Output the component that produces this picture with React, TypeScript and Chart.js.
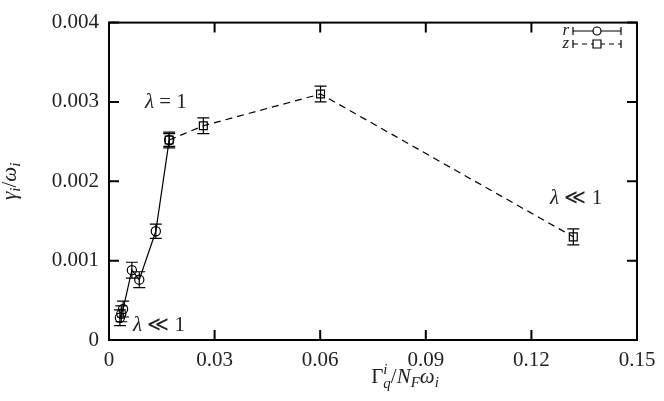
import React, { useEffect, useRef } from "react";
import { Chart, registerables } from "chart.js";

Chart.register(...registerables);

// ---- data ----
const seriesNames = ["r", "z"];
const rX = [0.0031, 0.0035, 0.004, 0.0065, 0.0086, 0.0133, 0.0171];
const rY = [0.00028, 0.00033, 0.00039, 0.00088, 0.00076, 0.00137, 0.00252];
const rErr = [0.0001, 0.0001, 0.0001, 0.0001, 0.0001, 0.00009, 0.00008];
const zX = [0.0171, 0.0268, 0.0601, 0.1319];
const zY = [0.00252, 0.0027, 0.0031, 0.0013];
const zErr = [0.0001, 0.0001, 0.0001, 0.0001];
const xTicks = [0, 0.03, 0.06, 0.09, 0.12, 0.15];
const xTickLabels = ["0", "0.03", "0.06", "0.09", "0.12", "0.15"];
const yTicks = [0, 0.001, 0.002, 0.003, 0.004];
const yTickLabels = ["0", "0.001", "0.002", "0.003", "0.004"];
const annX = [0.0102, 0.0068, 0.1253];
const annY = [0.00293, 0.00011, 0.00171];
const annRest = [" = 1", " \u226A 1", " \u226A 1"];

const SERIF = '"Liberation Serif", "DejaVu Serif", serif';
const TEXT = "#222";

type Run = { t: string; f: string; dy?: number; stack?: boolean };

function runsWidth(ctx: CanvasRenderingContext2D, runs: Run[]) {
  let w = 0;
  let stackW = 0;
  for (const r of runs) {
    ctx.font = r.f;
    const m = ctx.measureText(r.t).width;
    if (r.stack) {
      stackW = Math.max(stackW, m);
    } else {
      w += Math.max(m, stackW);
      stackW = 0;
    }
  }
  return w + stackW;
}

function drawRuns(ctx: CanvasRenderingContext2D, runs: Run[], x: number, y: number) {
  let cx = x;
  let stackW = 0;
  ctx.textBaseline = "alphabetic";
  ctx.textAlign = "left";
  for (const r of runs) {
    ctx.font = r.f;
    const m = ctx.measureText(r.t).width;
    ctx.fillText(r.t, cx, y + (r.dy || 0));
    if (r.stack) {
      stackW = Math.max(stackW, m);
    } else {
      cx += Math.max(m, stackW);
      stackW = 0;
    }
  }
}

const big = (it: boolean) => `${it ? "italic " : ""}21px ${SERIF}`;
const small = `italic 15px ${SERIF}`;

const errs = [rErr, zErr];

const decorPlugin = {
  id: "decor",
  afterDatasetsDraw(chart: any) {
    const ctx: CanvasRenderingContext2D = chart.ctx;
    const xs = chart.scales.x;
    const ys = chart.scales.y;
    const a = chart.chartArea;
    ctx.save();
    // error bars
    ctx.strokeStyle = "#000";
    ctx.lineWidth = 1.2;
    ctx.setLineDash([]);
    chart.data.datasets.forEach((ds: any, i: number) => {
      const meta = chart.getDatasetMeta(i);
      ds.data.forEach((p: any, j: number) => {
        const px = meta.data[j].x;
        const t = ys.getPixelForValue(p.y + errs[i][j]);
        const b = ys.getPixelForValue(p.y - errs[i][j]);
        ctx.beginPath();
        ctx.moveTo(px, t);
        ctx.lineTo(px, b);
        ctx.moveTo(px - 6, t);
        ctx.lineTo(px + 6, t);
        ctx.moveTo(px - 6, b);
        ctx.lineTo(px + 6, b);
        ctx.stroke();
      });
    });
    // frame
    ctx.lineWidth = 2;
    ctx.strokeRect(a.left, a.top, a.right - a.left, a.bottom - a.top);
    ctx.beginPath();
    xTicks.forEach((v) => {
      const px = xs.getPixelForValue(v);
      ctx.moveTo(px, a.bottom);
      ctx.lineTo(px, a.bottom - 10);
      ctx.moveTo(px, a.top);
      ctx.lineTo(px, a.top + 10);
    });
    yTicks.forEach((v) => {
      const py = ys.getPixelForValue(v);
      ctx.moveTo(a.left, py);
      ctx.lineTo(a.left + 10, py);
      ctx.moveTo(a.right, py);
      ctx.lineTo(a.right - 10, py);
    });
    ctx.stroke();

    // annotations
    ctx.fillStyle = TEXT;
    annX.forEach((v, i) => {
      drawRuns(
        ctx,
        [
          { t: "\u03BB", f: big(true) },
          { t: annRest[i], f: big(false) },
        ],
        xs.getPixelForValue(v),
        ys.getPixelForValue(annY[i])
      );
    });

    // legend
    const rows = [31, 44];
    ctx.font = `italic 17px ${SERIF}`;
    ctx.textAlign = "right";
    ctx.textBaseline = "middle";
    seriesNames.forEach((n, i) => {
      const y = rows[i];
      ctx.fillStyle = TEXT;
      ctx.font = `italic 17px ${SERIF}`;
      ctx.textAlign = "right";
      ctx.textBaseline = "middle";
      ctx.fillText(n, 569, y);
      ctx.strokeStyle = "#000";
      ctx.lineWidth = 1.2;
      ctx.setLineDash(i === 0 ? [] : [5, 4]);
      ctx.beginPath();
      ctx.moveTo(573, y);
      ctx.lineTo(621, y);
      ctx.stroke();
      ctx.setLineDash([]);
      ctx.beginPath();
      ctx.moveTo(573, y - 4);
      ctx.lineTo(573, y + 4);
      ctx.moveTo(621, y - 4);
      ctx.lineTo(621, y + 4);
      ctx.stroke();
      ctx.fillStyle = "#fff";
      ctx.beginPath();
      if (i === 0) {
        ctx.arc(597, y, 4, 0, Math.PI * 2);
      } else {
        ctx.rect(593, y - 4, 8, 8);
      }
      ctx.fill();
      ctx.stroke();
    });

    // axis titles
    ctx.fillStyle = TEXT;
    const yRuns: Run[] = [
      { t: "\u03B3", f: big(true) },
      { t: "i", f: small, dy: 4 },
      { t: "/", f: big(false) },
      { t: "\u03C9", f: big(true) },
      { t: "i", f: small, dy: 4 },
    ];
    ctx.save();
    ctx.translate(16, (a.top + a.bottom) / 2);
    ctx.rotate(-Math.PI / 2);
    drawRuns(ctx, yRuns, -runsWidth(ctx, yRuns) / 2, 0);
    ctx.restore();

    const xRuns: Run[] = [
      { t: "\u0393", f: big(false) },
      { t: "i", f: small, dy: -9, stack: true },
      { t: "q", f: small, dy: 5 },
      { t: "/", f: big(false) },
      { t: "N", f: big(true) },
      { t: "F", f: small, dy: 4 },
      { t: "\u03C9", f: big(true) },
      { t: "i", f: small, dy: 4 },
    ];
    drawRuns(ctx, xRuns, 405 - runsWidth(ctx, xRuns) / 2, 383);
    ctx.restore();
  },
};

export default function App() {
  const ref = useRef<HTMLCanvasElement>(null);
  useEffect(() => {
    if (!ref.current) return;
    const tickFont = { family: SERIF, size: 21 };
    const chart = new Chart(ref.current, {
      type: "scatter",
      data: {
        datasets: [
          {
            label: seriesNames[0],
            data: rX.map((x, i) => ({ x, y: rY[i] })),
            showLine: true,
            borderColor: "#000",
            borderWidth: 1.2,
            pointStyle: "circle",
            pointRadius: 4.6,
            pointBorderWidth: 1.2,
            pointBorderColor: "#000",
            pointBackgroundColor: "rgba(0,0,0,0)",
          },
          {
            label: seriesNames[1],
            data: zX.map((x, i) => ({ x, y: zY[i] })),
            showLine: true,
            borderColor: "#000",
            borderWidth: 1.2,
            borderDash: [7, 5],
            pointStyle: "rect",
            pointRadius: 5.6,
            pointBorderWidth: 1.2,
            pointBorderColor: "#000",
            pointBackgroundColor: "rgba(0,0,0,0)",
          },
        ],
      },
      options: {
        animation: false,
        responsive: false,
        layout: { padding: { top: 19, right: 27, left: 0, bottom: 0 } },
        plugins: { legend: { display: false }, tooltip: { enabled: false } },
        scales: {
          x: {
            type: "linear",
            min: 0,
            max: 0.15,
            afterBuildTicks: (s: any) => {
              s.ticks = xTicks.map((v) => ({ value: v }));
            },
            afterFit: (s: any) => {
              s.height = 61;
            },
            ticks: {
              callback: (v: any) => xTickLabels[xTicks.indexOf(v)] ?? "",
              font: tickFont,
              color: TEXT,
              padding: 8,
              maxRotation: 0,
              autoSkip: false,
            },
            grid: { display: false, drawTicks: false },
            border: { display: false },
          },
          y: {
            type: "linear",
            min: 0,
            max: 0.004,
            afterBuildTicks: (s: any) => {
              s.ticks = yTicks.map((v) => ({ value: v }));
            },
            afterFit: (s: any) => {
              s.width = 109;
            },
            ticks: {
              callback: (v: any) => yTickLabels[yTicks.indexOf(v)] ?? "",
              font: tickFont,
              color: TEXT,
              padding: 10,
              autoSkip: false,
            },
            grid: { display: false, drawTicks: false },
            border: { display: false },
          },
        },
      },
      plugins: [decorPlugin],
    } as any);
    return () => chart.destroy();
  }, []);
  return (
    <div style={{ position: "absolute", left: 0, top: 0, width: 664, height: 401, background: "#fff" }}>
      <canvas ref={ref} width={664} height={401} style={{ width: 664, height: 401, display: "block" }} />
    </div>
  );
}
